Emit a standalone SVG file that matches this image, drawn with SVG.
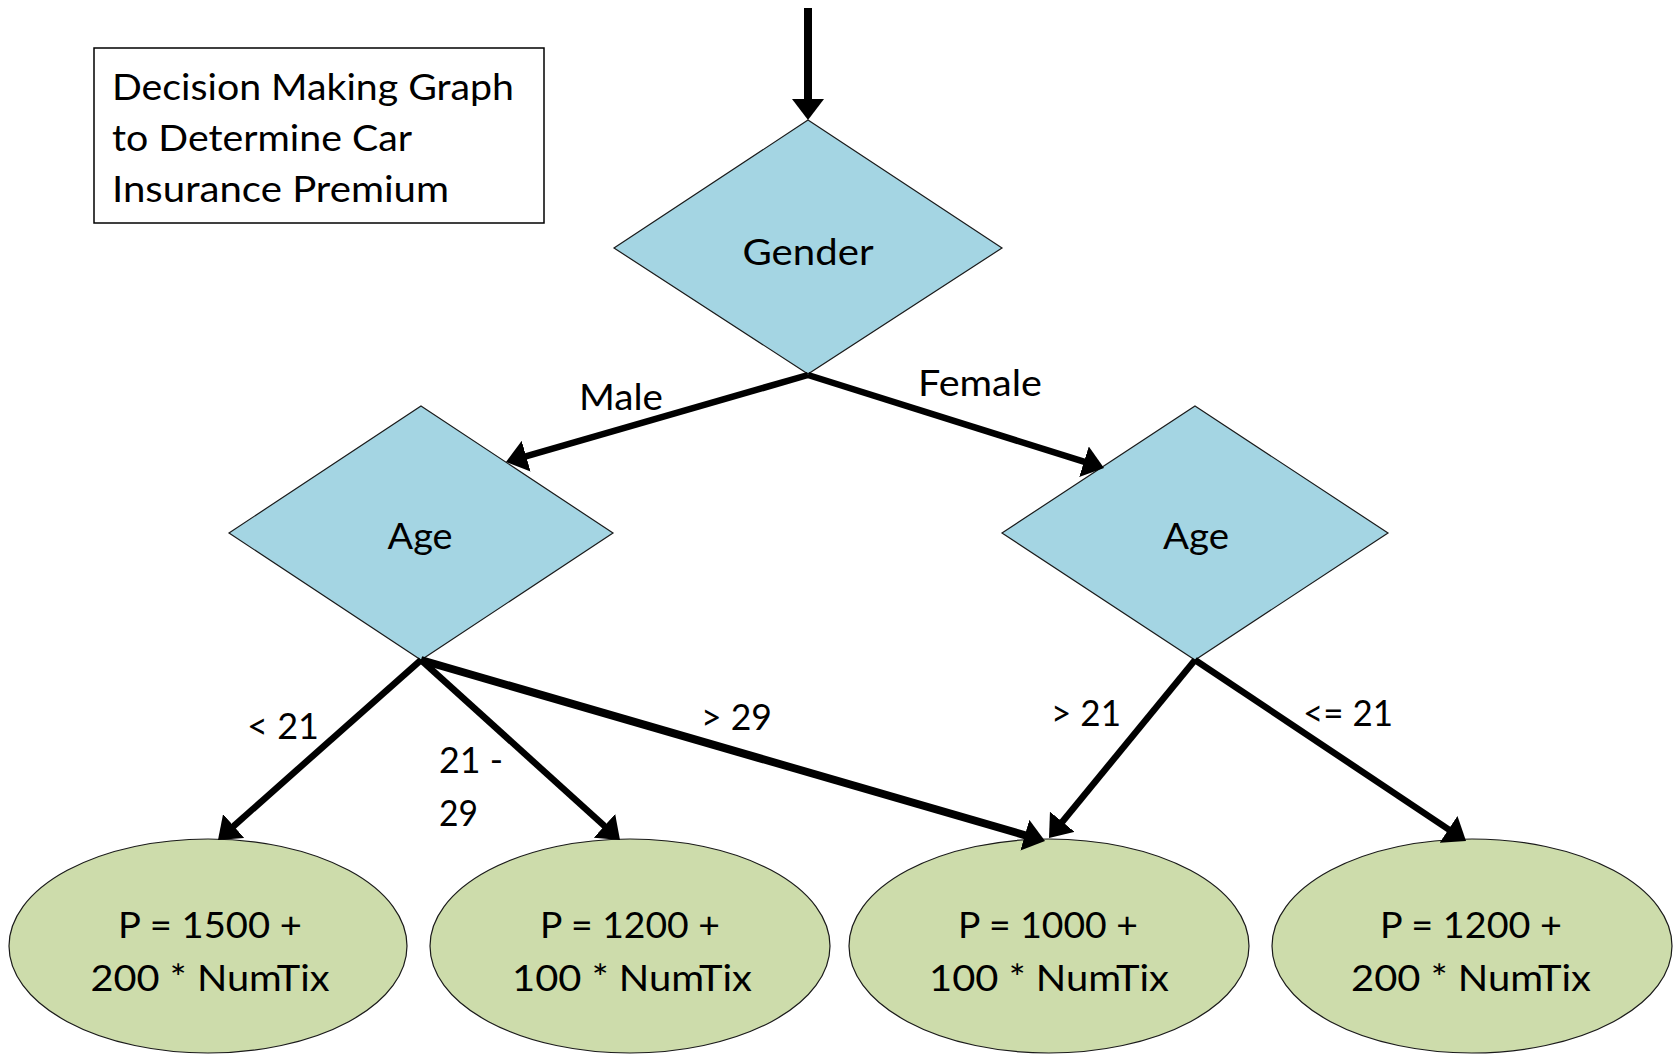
<svg xmlns="http://www.w3.org/2000/svg" width="1678" height="1055" viewBox="0 0 1678 1055">
<style>
  text { font-family: Lato, "Liberation Sans", sans-serif; font-size: 37px; fill: #000; }
  .c { text-anchor: middle; }
  .dia { fill: #A4D5E3; stroke: #1a1a1a; stroke-width: 1.2; }
  .leaf { fill: #CDDCAB; stroke: #1a1a1a; stroke-width: 1.2; }
  .edge { stroke: #000; stroke-width: 6.5; fill: none; marker-end: url(#ah); }
</style>
<defs>
  <marker id="ah" markerUnits="userSpaceOnUse" viewBox="0 0 21 32" refX="4" refY="16" markerWidth="21" markerHeight="32" orient="auto">
    <path d="M0,0 L21,16 L0,32 Z" fill="#000"/>
  </marker>
</defs>
<rect width="1678" height="1055" fill="#fff"/>

<g id="title">
  <rect x="94" y="48" width="450" height="175" fill="#fff" stroke="#000" stroke-width="1.5"/>
  <text x="112" y="100" textLength="402" lengthAdjust="spacingAndGlyphs">Decision Making Graph</text>
  <text x="112" y="151" textLength="300" lengthAdjust="spacingAndGlyphs">to Determine Car</text>
  <text x="112" y="202" textLength="337" lengthAdjust="spacingAndGlyphs">Insurance Premium</text>
</g>

<g id="gender">
  <polygon class="dia" points="808,120 1002,248 808,374 614,248"/>
  <text class="c" x="808" y="265" textLength="131" lengthAdjust="spacingAndGlyphs">Gender</text>
</g>
<g id="age-male">
  <polygon class="dia" points="421,406 613,533 421,660 229,533"/>
  <text class="c" x="420" y="549" textLength="65" lengthAdjust="spacingAndGlyphs">Age</text>
</g>
<g id="age-female">
  <polygon class="dia" points="1195,406 1388,533 1195,660 1002,533"/>
  <text class="c" x="1196" y="549" textLength="66" lengthAdjust="spacingAndGlyphs">Age</text>
</g>

<g id="leaf1">
  <ellipse class="leaf" cx="208" cy="946" rx="199" ry="107"/>
  <text class="c" x="210" y="938" textLength="184" lengthAdjust="spacingAndGlyphs">P = 1500 +</text>
  <text class="c" x="210" y="991" textLength="239" lengthAdjust="spacingAndGlyphs">200 * NumTix</text>
</g>
<g id="leaf2">
  <ellipse class="leaf" cx="630" cy="946" rx="200" ry="107"/>
  <text class="c" x="630" y="938" textLength="180" lengthAdjust="spacingAndGlyphs">P = 1200 +</text>
  <text class="c" x="632" y="991" textLength="240" lengthAdjust="spacingAndGlyphs">100 * NumTix</text>
</g>
<g id="leaf3">
  <ellipse class="leaf" cx="1049" cy="946" rx="200" ry="107"/>
  <text class="c" x="1048" y="938" textLength="180" lengthAdjust="spacingAndGlyphs">P = 1000 +</text>
  <text class="c" x="1049" y="991" textLength="240" lengthAdjust="spacingAndGlyphs">100 * NumTix</text>
</g>
<g id="leaf4">
  <ellipse class="leaf" cx="1472" cy="946" rx="200" ry="107"/>
  <text class="c" x="1471" y="938" textLength="182" lengthAdjust="spacingAndGlyphs">P = 1200 +</text>
  <text class="c" x="1471" y="991" textLength="240" lengthAdjust="spacingAndGlyphs">200 * NumTix</text>
</g>

<g id="connectors">
  <line class="edge" x1="808" y1="8" x2="808" y2="103" style="stroke-width:8"/>
  <line class="edge" x1="808" y1="375" x2="522.3" y2="457.3"/>
  <line class="edge" x1="808" y1="375" x2="1087.8" y2="462.9"/>
  <line class="edge" x1="421" y1="660" x2="230.7" y2="828.7"/>
  <line class="edge" x1="421" y1="660" x2="607.4" y2="828.6"/>
  <line class="edge" x1="421" y1="660" x2="1028.7" y2="836.3" style="stroke-width:8"/>
  <line class="edge" x1="1195" y1="660" x2="1059.8" y2="824.9"/>
  <line class="edge" x1="1195" y1="660" x2="1451.9" y2="831.6"/>
</g>

<g id="labels">
  <text x="247" y="739" textLength="72" lengthAdjust="spacingAndGlyphs">&lt; 21</text>
  <text x="579" y="410" textLength="84" lengthAdjust="spacingAndGlyphs">Male</text>
  <text x="918" y="396" textLength="124" lengthAdjust="spacingAndGlyphs">Female</text>
  <text x="439" y="773" textLength="64" lengthAdjust="spacingAndGlyphs">21 -</text>
  <text x="439" y="826" textLength="39" lengthAdjust="spacingAndGlyphs">29</text>
  <text x="701" y="730" textLength="71" lengthAdjust="spacingAndGlyphs">&gt; 29</text>
  <text x="1051" y="726" textLength="70" lengthAdjust="spacingAndGlyphs">&gt; 21</text>
  <text x="1303" y="726" textLength="90" lengthAdjust="spacingAndGlyphs">&lt;= 21</text>
</g>
</svg>
